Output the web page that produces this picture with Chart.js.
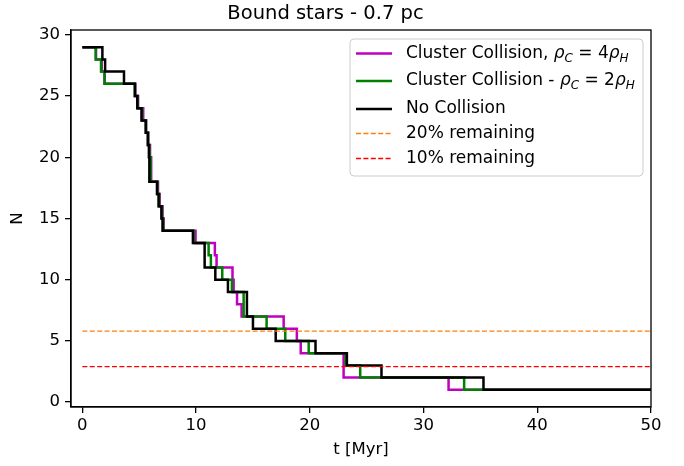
<!DOCTYPE html>
<html>
<head>
<meta charset="utf-8">
<script src="https://cdn.jsdelivr.net/npm/chart.js@4.4.0/dist/chart.umd.min.js"></script>
<style>
html, body { margin: 0; padding: 0; background: #fff; }
</style>
</head>
<body>
<canvas id="grafico" width="684" height="466"></canvas>
<script>
// No collision
const tNoColl = [0, 1.76, 2.0, 3.66, 4.63, 4.83, 5.2, 5.57, 5.75, 5.85, 5.89, 6.56, 6.7, 6.95, 7.05, 9.72, 10.75, 11.69, 12.8, 14.47, 15.0, 17.0, 20.5, 23.26, 26.3, 35.27, 50];
const nNoColl = [29, 28, 27, 26, 25, 24, 23, 22, 21, 20, 18, 17, 16, 15, 14, 13, 11, 10, 9, 7, 6, 5, 4, 3, 2, 1, 1];
// rho_C = 2 rho_H
const tRho2 = [0, 1.17, 1.64, 1.95, 4.6, 4.85, 5.25, 5.6, 5.78, 5.9, 6.0, 6.6, 6.75, 7.0, 7.1, 9.8, 11.1, 11.3, 12.3, 13.15, 14.18, 16.2, 17.84, 19.9, 23.15, 24.43, 33.57, 50];
const nRho2 = [29, 28, 27, 26, 25, 24, 23, 22, 21, 20, 18, 17, 16, 15, 14, 13, 12, 11, 10, 9, 7, 6, 5, 4, 3, 2, 1, 1];
// rho_C = 4 rho_H
const tRho4 = [0, 1.2, 1.7, 1.95, 4.65, 4.9, 5.35, 5.6, 5.8, 5.95, 6.05, 6.65, 6.8, 7.05, 7.15, 9.95, 11.65, 11.8, 13.2, 13.3, 13.6, 14.0, 17.7, 18.86, 19.2, 22.97, 32.2, 50];
const nRho4 = [29, 28, 27, 26, 25, 24, 23, 22, 21, 20, 18, 17, 16, 15, 14, 13, 12, 11, 10, 9, 8, 7, 6, 5, 4, 2, 1, 1];
// lineas de referencia
const lineaX = [0, 50];
const resto20 = [5.8, 5.8];
const resto10 = [2.9, 2.9];

const xTicks = [0, 10, 20, 30, 40, 50];
const yTicks = [0, 5, 10, 15, 20, 25, 30];

function puntos(xs, ys) {
    return xs.map((x, i) => ({x: x, y: ys[i]}));
}

// texto con subindices para la leyenda
function textoRico(ctx, partes, x, y) {
    partes.forEach(p => {
        const size = p.sub ? 12 : 17;
        ctx.font = (p.it ? 'italic ' : '') + size + 'px "DejaVu Sans"';
        ctx.fillText(p.t, x, y + (p.sub ? 5 : 0));
        x += ctx.measureText(p.t).width;
    });
}

const leyenda = {
    id: 'leyenda',
    afterDraw(chart) {
        const ctx = chart.ctx;
        const a = chart.chartArea;
        ctx.save();
        // marco de los ejes
        ctx.strokeStyle = '#000';
        ctx.lineWidth = 1.3;
        ctx.strokeRect(a.left, a.top, a.right - a.left, a.bottom - a.top);

        const w = 293, h = 137;
        const x0 = a.right - 8 - w, y0 = a.top + 9;
        ctx.beginPath();
        ctx.roundRect(x0, y0, w, h, 4);
        ctx.fillStyle = 'rgba(255,255,255,0.8)';
        ctx.fill();
        ctx.strokeStyle = '#cccccc';
        ctx.lineWidth = 1;
        ctx.stroke();

        const filas = [14.5, 42, 70, 94.5, 119.5];
        chart.data.datasets.forEach((ds, i) => {
            const y = y0 + filas[i];
            ctx.beginPath();
            ctx.setLineDash(ds.borderDash || []);
            ctx.strokeStyle = ds.borderColor;
            ctx.lineWidth = ds.borderWidth;
            ctx.moveTo(x0 + 6, y);
            ctx.lineTo(x0 + 42, y);
            ctx.stroke();
            ctx.setLineDash([]);
            ctx.fillStyle = '#000';
            ctx.textBaseline = 'middle';
            textoRico(ctx, ds.partes, x0 + 56, y);
        });
        ctx.restore();
    }
};

Chart.defaults.font.family = 'DejaVu Sans';
Chart.defaults.color = '#000';

const ctx = document.getElementById('grafico').getContext('2d');
new Chart(ctx, {
    type: 'line',
    data: {
        datasets: [
            {
                label: 'Cluster Collision, ρC = 4ρH',
                partes: [{t: 'Cluster Collision, '}, {t: 'ρ', it: true}, {t: 'C', it: true, sub: true}, {t: ' = 4'}, {t: 'ρ', it: true}, {t: 'H', it: true, sub: true}],
                data: puntos(tRho4, nRho4),
                borderColor: '#bf00bf',
                borderWidth: 2.5,
                stepped: true,
                order: 5
            },
            {
                label: 'Cluster Collision - ρC = 2ρH',
                partes: [{t: 'Cluster Collision - '}, {t: 'ρ', it: true}, {t: 'C', it: true, sub: true}, {t: ' = 2'}, {t: 'ρ', it: true}, {t: 'H', it: true, sub: true}],
                data: puntos(tRho2, nRho2),
                borderColor: '#008000',
                borderWidth: 2.5,
                stepped: true,
                order: 4
            },
            {
                label: 'No Collision',
                partes: [{t: 'No Collision'}],
                data: puntos(tNoColl, nNoColl),
                borderColor: '#000000',
                borderWidth: 2.5,
                stepped: true,
                order: 3
            },
            {
                label: '20% remaining',
                partes: [{t: '20% remaining'}],
                data: puntos(lineaX, resto20),
                borderColor: '#ff7f0e',
                borderWidth: 1.3,
                borderDash: [5, 2.4],
                order: 2
            },
            {
                label: '10% remaining',
                partes: [{t: '10% remaining'}],
                data: puntos(lineaX, resto10),
                borderColor: '#ff0000',
                borderWidth: 1.3,
                borderDash: [5, 2.4],
                order: 1
            }
        ]
    },
    options: {
        responsive: false,
        animation: false,
        layout: { padding: { left: 0, right: 33, top: 0, bottom: 0 } },
        elements: { point: { radius: 0 }, line: { fill: false, tension: 0 } },
        plugins: {
            legend: { display: false },
            tooltip: { enabled: false },
            title: {
                display: true,
                text: 'Bound stars - 0.7 pc',
                font: { size: 19.5, weight: 'normal' },
                color: '#000',
                padding: { top: 2.3, bottom: 4.3 }
            }
        },
        scales: {
            x: {
                type: 'linear',
                min: -1,
                max: 50,
                afterBuildTicks: s => { s.ticks = xTicks.map(v => ({value: v})); },
                afterFit: s => { s.height = 59; s.paddingLeft = 0; s.paddingRight = 0; },
                ticks: { font: { size: 16.5 }, padding: 3, maxRotation: 0 },
                grid: { drawOnChartArea: false, tickLength: 6, color: '#000', lineWidth: 1.3 },
                border: { display: true, color: '#000', width: 1.3 },
                title: { display: true, text: 't [Myr]', font: { size: 16.5 }, padding: { top: 0, bottom: 6 } }
            },
            y: {
                min: -0.4,
                max: 30.4,
                afterBuildTicks: s => { s.ticks = yTicks.map(v => ({value: v})); },
                afterFit: s => { s.width = 71; s.paddingTop = 0; s.paddingBottom = 0; },
                ticks: { font: { size: 16.5 }, padding: 5 },
                grid: { drawOnChartArea: false, tickLength: 6, color: '#000', lineWidth: 1.3 },
                border: { display: true, color: '#000', width: 1.3 },
                title: { display: true, text: 'N', font: { size: 16.5 }, padding: { top: 8, bottom: 0 } }
            }
        }
    },
    plugins: [leyenda]
});
</script>
</body>
</html>
